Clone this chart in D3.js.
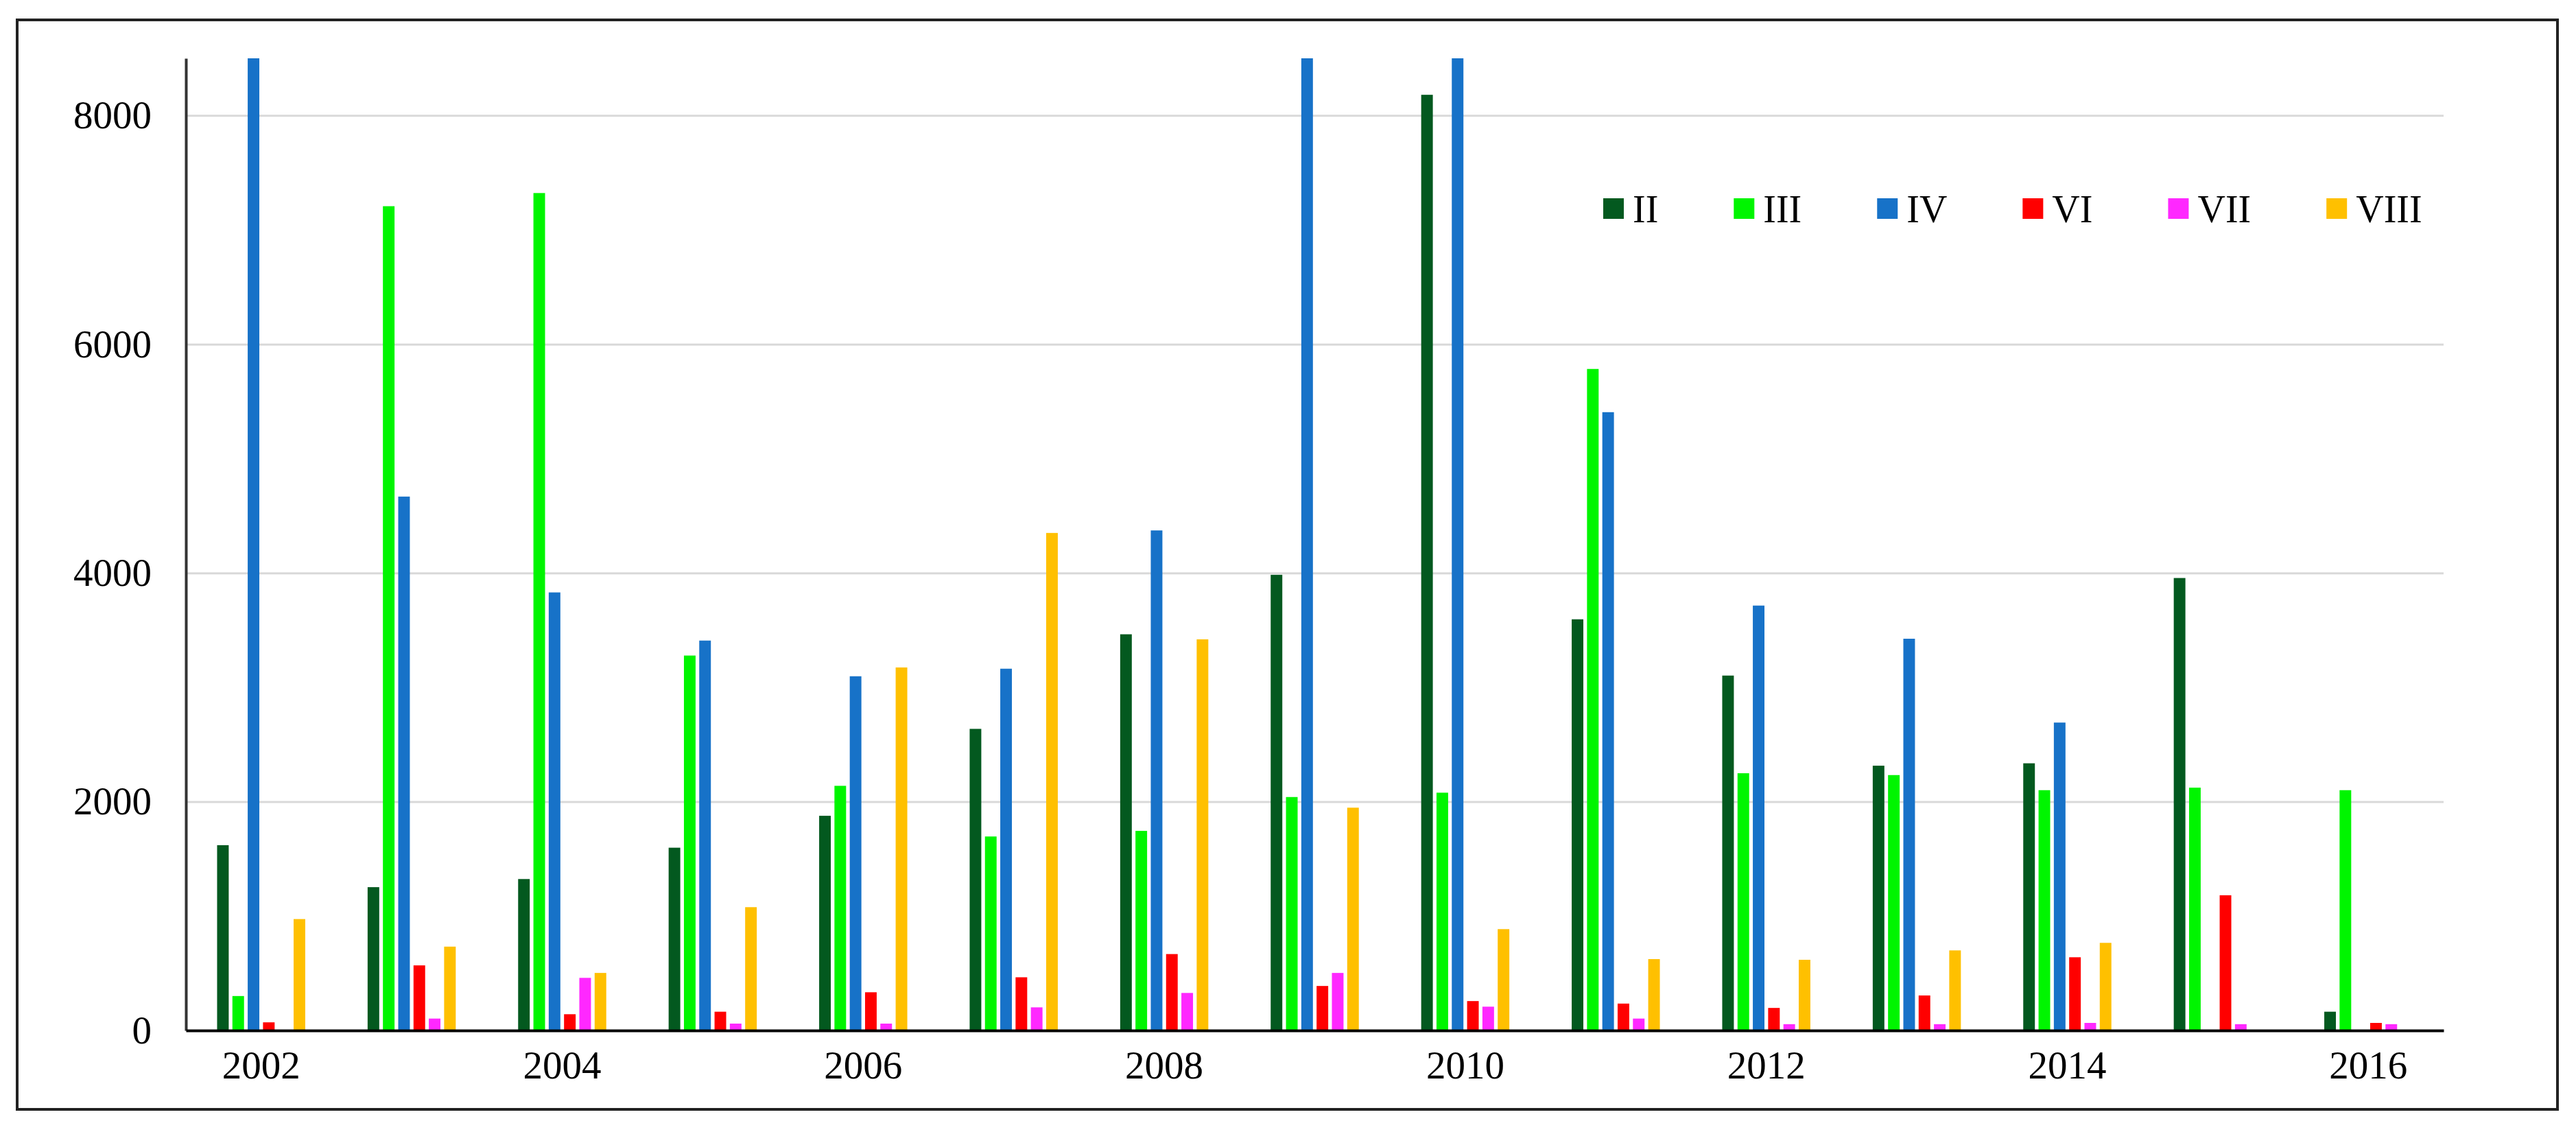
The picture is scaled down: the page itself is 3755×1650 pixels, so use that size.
<!DOCTYPE html>
<html>
<head>
<meta charset="utf-8">
<script src="https://cdn.jsdelivr.net/npm/d3@7"></script>
<style>
  html, body { margin: 0; padding: 0; background: #fff; }
  svg { display: block; }
</style>
</head>
<body>
<script>
const years = ["2002","2003","2004","2005","2006","2007","2008","2009","2010","2011","2012","2013","2014","2015","2016"];
const yearLabels = ["2002","2004","2006","2008","2010","2012","2014","2016"];
const seriesNames = ["II","III","IV","VI","VII","VIII"];
const seriesColors = ["#03591f","#00f500","#1772c8","#ff0000","#ff28ff","#ffc000"];
const yTicks = [0, 2000, 4000, 6000, 8000];
const yMax = 8500;

const II   = [1620,1253,1324,1598,1877,2637,3464,3984,8181,3595,3103,2315,2336,3956,164];
const III  = [301,7207,7322,3278,2139,1696,1745,2041,2079,5784,2249,2233,2101,2123,2101];
const IV   = [8500,4668,3830,3409,3097,3163,4372,8500,8500,5406,3715,3425,2692,0,0];
const VI   = [71,569,142,164,334,465,668,389,257,235,197,306,640,1182,66];
const VII  = [0,104,460,60,60,202,328,503,208,104,55,55,66,55,55];
const VIII = [974,733,503,1078,3174,4350,3420,1948,886,624,618,700,766,0,0];
const seriesValues = [II, III, IV, VI, VII, VIII];

(function () {
const W = 3755, H = 1650;
const pLeft = 271, pRight = 3562, pTop = 85, pBottom = 1502;
const font = "'Liberation Serif', 'Times New Roman', serif";

const svg = d3.select("body").append("svg").attr("width", W).attr("height", H);

// outer frame
svg.append("rect").attr("x", 25).attr("y", 29).attr("width", 3703).attr("height", 1588)
  .attr("fill", "#fff").attr("stroke", "#222").attr("stroke-width", 4);

const x0 = d3.scaleBand().domain(years).range([pLeft, pRight]).paddingInner(0.39).paddingOuter(0.195);
const x1 = d3.scaleBand().domain(seriesNames).range([0, x0.bandwidth()]).paddingInner(0.24).paddingOuter(0.12);
const y = d3.scaleLinear().domain([0, yMax]).range([pBottom, pTop]);

// gridlines
const grid = svg.append("g").attr("transform", `translate(${pLeft},0)`)
  .call(d3.axisLeft(y).tickValues(yTicks.filter(d => d > 0)).tickSize(-(pRight - pLeft)).tickFormat(""));
grid.select(".domain").remove();
grid.selectAll("line").attr("stroke", "#d9d9d9").attr("stroke-width", 3);

// bars
const groups = svg.append("g").selectAll("g").data(years).join("g")
  .attr("transform", d => `translate(${x0(d)},0)`);
groups.selectAll("rect")
  .data((yr, i) => seriesNames.map((s, k) => ({ s, k, v: seriesValues[k][i] })))
  .join("rect")
  .attr("x", d => x1(d.s))
  .attr("width", x1.bandwidth())
  .attr("y", d => y(Math.min(d.v, yMax)))
  .attr("height", d => pBottom - y(Math.min(d.v, yMax)))
  .attr("fill", d => seriesColors[d.k]);

// y axis
const yAxis = svg.append("g").attr("transform", `translate(${pLeft},0)`)
  .call(d3.axisLeft(y).tickValues(yTicks).tickSize(0).tickPadding(50).tickFormat(d3.format("d")));
yAxis.select(".domain").attr("stroke", "#333").attr("stroke-width", 4);
yAxis.selectAll("text").attr("font-family", font).attr("font-size", 57).attr("fill", "#000");

// x axis
const xAxis = svg.append("g").attr("transform", `translate(0,${pBottom})`)
  .call(d3.axisBottom(x0).tickValues(yearLabels).tickSize(0).tickPadding(30));
xAxis.select(".domain").attr("stroke", "#000").attr("stroke-width", 4);
xAxis.selectAll("text").attr("font-family", font).attr("font-size", 57).attr("fill", "#000");

// legend
const legend = svg.append("g");
let lx = 2337;
const ly = 289;
seriesNames.forEach((name, k) => {
  legend.append("rect").attr("x", lx).attr("y", ly).attr("width", 30).attr("height", 30)
    .attr("fill", seriesColors[k]);
  const t = legend.append("text").attr("x", lx + 43).attr("y", ly + 15).attr("dy", "0.35em")
    .attr("font-family", font).attr("font-size", 56).attr("fill", "#000").text(name);
  lx += 43 + t.node().getComputedTextLength() + 110;
});
})();
</script>
</body>
</html>
